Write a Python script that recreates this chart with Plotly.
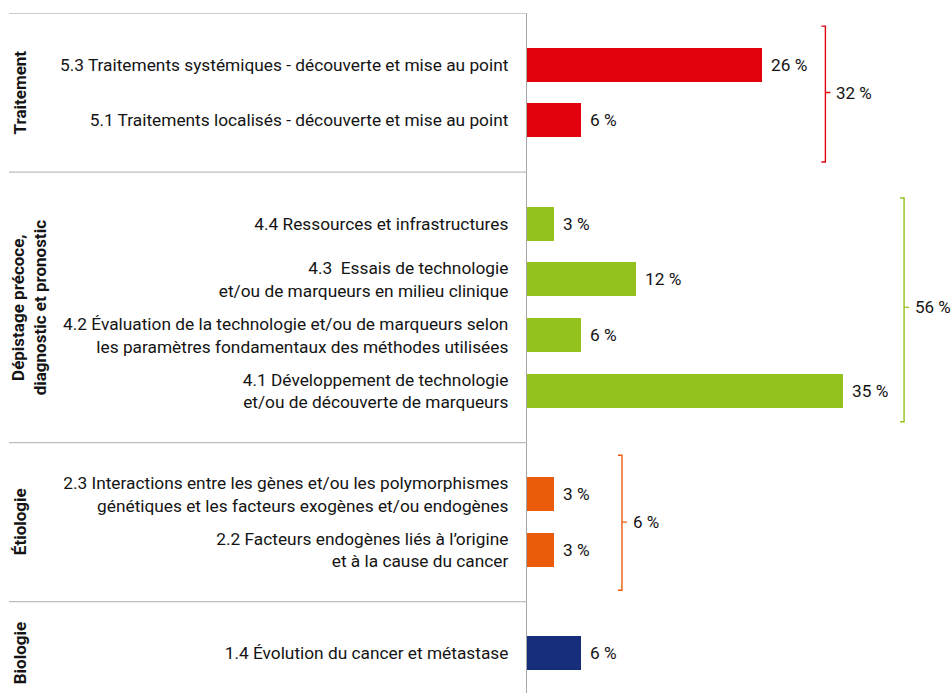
import plotly.graph_objects as go

# ---------------- data ----------------
group_names = ["Traitement", "Dépistage précoce,<br>diagnostic et pronostic", "Étiologie", "Biologie"]
group_colors = ["#E3000F", "#95C11F", "#EA5B0C", "#172F7A"]
group_totals = ["32 %", "56 %", "6 %", None]

categories = [
    "5.3 Traitements systémiques - découverte et mise au point",
    "5.1 Traitements localisés - découverte et mise au point",
    "4.4 Ressources et infrastructures",
    "4.3  Essais de technologie<br>et/ou de marqueurs en milieu clinique",
    "4.2 Évaluation de la technologie et/ou de marqueurs selon<br>les paramètres fondamentaux des méthodes utilisées",
    "4.1 Développement de technologie<br>et/ou de découverte de marqueurs",
    "2.3 Interactions entre les gènes et/ou les polymorphismes<br>génétiques et les facteurs exogènes et/ou endogènes",
    "2.2 Facteurs endogènes liés à l’origine<br>et à la cause du cancer",
    "1.4 Évolution du cancer et métastase",
]
values = [26, 6, 3, 12, 6, 35, 3, 3, 6]
value_labels = ["26 %", "6 %", "3 %", "12 %", "6 %", "35 %", "3 %", "3 %", "6 %"]
group_of = [0, 0, 1, 1, 1, 1, 2, 2, 3]

# ---------------- layout helpers ----------------
W, H = 952, 693
ML, MT = 527, 13
PW, PH = W - ML, H - MT
PX_PER_ROW = 55.8
PAD = 0.925  # half gap between groups (rows)
XMAX = 47.0
FONT = "Roboto"
FS = 17.3
TXT = "#141414"

pos = []
y = 0.0
prev = None
for g in group_of:
    if prev is not None:
        y += 1.0 if g == prev else 2 * PAD
    pos.append(y)
    prev = g

y_top = -PAD
y_bottom = y_top + PH / PX_PER_ROW

fig = go.Figure()
for gi, color in enumerate(group_colors):
    idx = [i for i, g in enumerate(group_of) if g == gi]
    fig.add_trace(go.Bar(
        orientation="h",
        x=[values[i] for i in idx],
        y=[pos[i] for i in idx],
        width=0.61,
        marker=dict(color=color, line=dict(width=0)),
        text=["\u00a0\u200a" + value_labels[i] for i in idx],
        textposition="outside",
        textfont=dict(family=FONT, size=FS, color=TXT),
        cliponaxis=False,
        hoverinfo="skip",
        showlegend=False,
    ))

shapes = []
annotations = []
x_left_paper = (9 - ML) / PW

group_label_px = [20, 29, 20, 20]
bracket_x = [33.0, 41.7, 10.5]
bracket_ext = [(0.69, 0.745), (0.46, 0.55), (0.70, 0.72)]
serif = 4 / (PW / XMAX)
tick = 5 / (PW / XMAX)

for gi in range(len(group_names)):
    gpos = [pos[i] for i, g in enumerate(group_of) if g == gi]
    top, bot = min(gpos), max(gpos)
    mid = (top + bot) / 2
    # separator line
    shapes.append(dict(type="line", xref="paper", yref="y",
                       x0=x_left_paper, x1=0, y0=top - PAD, y1=top - PAD,
                       line=dict(color="#BDBDBD", width=1.3)))
    # group label (vertical)
    annotations.append(dict(text="<b>" + group_names[gi] + "</b>", xref="paper", yref="y",
                            x=(group_label_px[gi] - ML) / PW, y=mid, textangle=-90,
                            xanchor="center", yanchor="middle", showarrow=False,
                            font=dict(family=FONT, size=17, color=TXT)))
    if group_totals[gi] is not None:
        bx = bracket_x[gi]
        t0 = top - bracket_ext[gi][0]
        b0 = bot + bracket_ext[gi][1]
        c = group_colors[gi]
        path = (f"M {bx - serif},{t0} L {bx},{t0} L {bx},{b0} L {bx - serif},{b0} "
                f"M {bx},{mid} L {bx + tick},{mid}")
        shapes.append(dict(type="path", xref="x", yref="y", path=path,
                           line=dict(color=c, width=1.4)))
        annotations.append(dict(text=group_totals[gi], xref="x", yref="y",
                                x=bx, y=mid, xanchor="left", yanchor="middle",
                                xshift=9, showarrow=False,
                                font=dict(family=FONT, size=17, color=TXT)))

fig.update_layout(
    width=W, height=H,
    margin=dict(l=ML, r=0, t=MT, b=0, pad=0),
    plot_bgcolor="white", paper_bgcolor="white",
    bargap=0,
    shapes=shapes,
    annotations=annotations,
    xaxis=dict(range=[0, XMAX], visible=False, fixedrange=True),
    yaxis=dict(range=[y_bottom, y_top], tickvals=pos, ticktext=categories,
               showline=True, linecolor="#A6A6A6", linewidth=1.3,
               ticks="", showgrid=False, zeroline=False,
               ticklabelstandoff=14, fixedrange=True,
               tickfont=dict(family=FONT, size=FS, color=TXT)),
    font=dict(family=FONT, size=FS, color=TXT),
)

fig.write_html("out.html",
               config={"displayModeBar": False},
               post_script="document.body.style.margin='0';document.body.style.overflow='hidden';")
